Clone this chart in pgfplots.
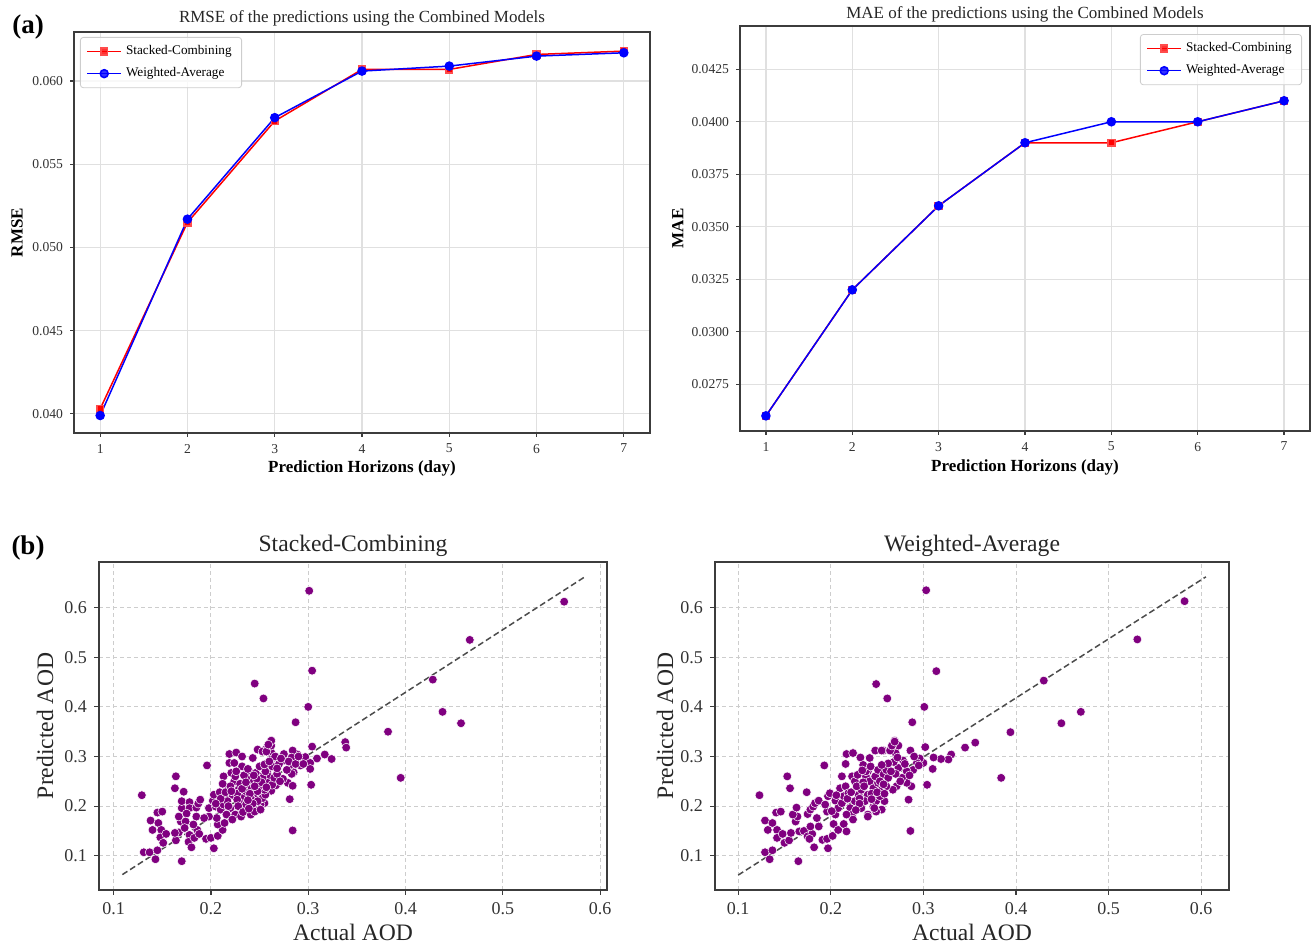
\documentclass[border=0pt]{standalone}
\usepackage{fontspec}
\setmainfont{Liberation Serif}
\usepackage{pgfplots}
\pgfplotsset{compat=1.18}
\definecolor{aodpurple}{RGB}{128,0,128}
\definecolor{framegray}{RGB}{60,60,60}
\definecolor{gridgray}{RGB}{224,224,224}
\definecolor{lgray}{RGB}{205,205,205}

\pgfplotstableread{
x y
0.301 0.634
0.563 0.612
0.466 0.535
0.304 0.473
0.428 0.455
0.245 0.447
0.254 0.417
0.300 0.400
0.438 0.390
0.457 0.367
0.287 0.369
0.382 0.350
0.338 0.329
0.339 0.318
0.395 0.257
0.317 0.304
0.324 0.295
0.309 0.296
0.304 0.320
0.297 0.299
0.302 0.287
0.302 0.275
0.303 0.243
0.292 0.282
0.289 0.304
0.284 0.312
0.283 0.298
0.284 0.280
0.285 0.268
0.283 0.265
0.276 0.292
0.278 0.273
0.279 0.247
0.284 0.241
0.281 0.214
0.284 0.151
0.274 0.255
0.269 0.247
0.267 0.242
0.262 0.231
0.262 0.253
0.262 0.283
0.262 0.308
0.262 0.332
0.261 0.322
0.256 0.314
0.258 0.267
0.250 0.260
0.252 0.236
0.255 0.206
0.250 0.193
0.259 0.260
0.129 0.222
0.196 0.282
0.164 0.260
0.163 0.236
0.172 0.229
0.138 0.171
0.145 0.187
0.150 0.189
0.146 0.166
0.140 0.152
0.149 0.152
0.148 0.137
0.154 0.144
0.151 0.126
0.131 0.107
0.137 0.107
0.145 0.111
0.143 0.093
0.170 0.089
0.164 0.131
0.167 0.147
0.163 0.146
0.169 0.169
0.167 0.179
0.170 0.196
0.170 0.210
0.178 0.208
0.178 0.196
0.175 0.185
0.174 0.169
0.173 0.156
0.178 0.142
0.177 0.128
0.180 0.117
0.183 0.136
0.186 0.152
0.188 0.144
0.182 0.163
0.185 0.179
0.185 0.197
0.187 0.205
0.189 0.213
0.195 0.134
0.200 0.136
0.203 0.115
0.207 0.140
0.212 0.152
0.207 0.163
0.206 0.176
0.198 0.179
0.198 0.196
0.193 0.176
0.202 0.211
0.203 0.223
0.205 0.199
0.210 0.193
0.213 0.203
0.215 0.216
0.209 0.228
0.217 0.236
0.213 0.260
0.219 0.287
0.224 0.287
0.219 0.305
0.226 0.308
0.221 0.267
0.224 0.250
0.225 0.260
0.229 0.236
0.222 0.223
0.217 0.210
0.220 0.196
0.225 0.183
0.216 0.183
0.214 0.166
0.222 0.173
0.231 0.196
0.229 0.210
0.234 0.220
0.236 0.230
0.232 0.300
0.232 0.280
0.243 0.297
0.241 0.267
0.237 0.257
0.239 0.243
0.244 0.250
0.242 0.236
0.246 0.226
0.241 0.216
0.236 0.203
0.231 0.179
0.241 0.183
0.246 0.193
0.251 0.203
0.253 0.216
0.248 0.210
0.256 0.223
0.255 0.233
0.250 0.240
0.258 0.247
0.253 0.257
0.246 0.267
0.250 0.280
0.256 0.270
0.263 0.280
0.262 0.294
0.255 0.284
0.248 0.314
0.253 0.310
0.257 0.310
0.262 0.322
0.262 0.332
0.259 0.324
0.245 0.189
0.251 0.193
0.263 0.243
0.265 0.257
0.210 0.215
0.215 0.228
0.220 0.240
0.227 0.225
0.230 0.245
0.234 0.262
0.238 0.275
0.240 0.225
0.243 0.205
0.248 0.230
0.252 0.248
0.247 0.255
0.227 0.213
0.218 0.200
0.232 0.235
0.238 0.212
0.244 0.262
0.226 0.270
0.268 0.265
0.271 0.250
0.270 0.285
0.266 0.300
0.275 0.305
0.280 0.290
0.287 0.285
0.290 0.300
0.295 0.285
0.212 0.245
0.236 0.248
0.245 0.240
0.221 0.230
0.228 0.200
0.233 0.188
0.239 0.195
0.205 0.205
0.257 0.238
0.260 0.290
0.268 0.276
0.272 0.296
}\stackeddata

\pgfplotstableread{
x y
0.303 0.635
0.582 0.613
0.531 0.536
0.314 0.472
0.430 0.453
0.249 0.446
0.261 0.417
0.301 0.400
0.470 0.390
0.449 0.367
0.288 0.369
0.394 0.349
0.384 0.257
0.356 0.328
0.345 0.318
0.302 0.319
0.330 0.304
0.327 0.294
0.319 0.295
0.311 0.298
0.310 0.275
0.304 0.243
0.300 0.287
0.296 0.296
0.286 0.312
0.293 0.287
0.289 0.273
0.287 0.240
0.284 0.213
0.286 0.150
0.282 0.270
0.282 0.247
0.277 0.257
0.271 0.240
0.273 0.277
0.270 0.307
0.273 0.322
0.269 0.332
0.266 0.320
0.257 0.312
0.278 0.292
0.268 0.289
0.260 0.282
0.262 0.260
0.267 0.233
0.258 0.210
0.255 0.193
0.262 0.263
0.123 0.222
0.193 0.282
0.153 0.260
0.156 0.236
0.174 0.228
0.129 0.171
0.141 0.187
0.146 0.189
0.137 0.166
0.132 0.152
0.142 0.152
0.142 0.136
0.148 0.144
0.150 0.126
0.129 0.107
0.137 0.111
0.134 0.093
0.165 0.089
0.155 0.131
0.157 0.146
0.162 0.169
0.164 0.179
0.159 0.183
0.163 0.197
0.166 0.149
0.171 0.150
0.175 0.139
0.180 0.144
0.177 0.134
0.182 0.117
0.178 0.159
0.175 0.184
0.178 0.193
0.181 0.199
0.183 0.206
0.187 0.211
0.185 0.176
0.187 0.159
0.191 0.132
0.196 0.134
0.197 0.115
0.202 0.140
0.203 0.164
0.208 0.152
0.214 0.164
0.205 0.183
0.196 0.189
0.194 0.203
0.197 0.220
0.199 0.226
0.205 0.211
0.208 0.196
0.212 0.206
0.214 0.220
0.210 0.236
0.216 0.240
0.212 0.260
0.216 0.285
0.217 0.305
0.224 0.307
0.219 0.226
0.221 0.196
0.223 0.183
0.224 0.173
0.226 0.210
0.230 0.223
0.233 0.233
0.223 0.260
0.226 0.250
0.232 0.298
0.235 0.283
0.242 0.297
0.240 0.270
0.238 0.260
0.242 0.250
0.246 0.236
0.240 0.223
0.237 0.210
0.233 0.196
0.240 0.183
0.246 0.199
0.249 0.210
0.253 0.220
0.255 0.233
0.251 0.247
0.248 0.260
0.251 0.273
0.257 0.264
0.260 0.273
0.262 0.286
0.255 0.283
0.248 0.312
0.255 0.312
0.264 0.312
0.266 0.322
0.269 0.330
0.260 0.240
0.262 0.257
0.249 0.189
0.240 0.179
0.247 0.196
0.217 0.183
0.217 0.149
0.218 0.215
0.222 0.228
0.228 0.240
0.231 0.215
0.235 0.248
0.238 0.270
0.244 0.225
0.250 0.228
0.253 0.250
0.229 0.263
0.243 0.280
0.270 0.265
0.275 0.250
0.280 0.285
0.290 0.300
0.295 0.282
0.206 0.222
0.231 0.205
0.236 0.240
0.244 0.214
0.257 0.244
0.265 0.270
0.272 0.298
0.285 0.262
0.201 0.190
0.227 0.192
0.234 0.272
0.258 0.225
}\weighteddata

\pgfplotsset{
  every axis title shift=0pt,
  topaxis/.style={
    scale only axis,
    axis line style={framegray, line width=0.75pt},
    tick align=outside, major tick length=2pt,
    tick style={framegray, line width=0.6pt},
    xtick pos=bottom, ytick pos=left,
    xmin=0.7, xmax=7.3, xtick={1,...,7},
    scaled y ticks=false,
    grid=major, major grid style={gridgray, line width=0.6pt},
    ticklabel style={font=\fontsize{6.8}{8}\selectfont, text=black!80},
    /pgf/number format/assume math mode=true,
    title style={font=\fontsize{8.5}{10}\selectfont, text=black!85, anchor=center},
    xlabel style={font=\fontsize{8.5}{10}\selectfont\bfseries, anchor=center},
    ylabel style={font=\fontsize{8.5}{10}\selectfont\bfseries, anchor=center},
    legend style={font=\fontsize{6.6}{8}\selectfont, draw=lgray, rounded corners=1.5pt,
      fill=white, fill opacity=0.8, text opacity=1, row sep=1pt, inner xsep=3pt, inner ysep=2pt},
    legend cell align=left,
  },
  botaxis/.style={
    scale only axis,
    axis line style={framegray, line width=0.75pt},
    tick align=outside, major tick length=2.5pt,
    tick style={framegray, line width=0.6pt},
    xtick pos=bottom, ytick pos=left,
    xtick={0.1,0.2,0.3,0.4,0.5,0.6}, ytick={0.1,0.2,0.3,0.4,0.5,0.6},
    ymin=0.031, ymax=0.692,
    grid=major, major grid style={lgray, line width=0.5pt, dash pattern=on 2pt off 1.5pt},
    ticklabel style={font=\fontsize{9}{10}\selectfont, text=black!80},
    /pgf/number format/assume math mode=true,
    xticklabel style={/pgf/number format/fixed, /pgf/number format/precision=1},
    yticklabel style={/pgf/number format/fixed, /pgf/number format/precision=1},
    title style={font=\fontsize{11.8}{13}\selectfont, text=black!85, anchor=center},
    xlabel style={font=\fontsize{11.8}{13}\selectfont, text=black!85, anchor=center},
    ylabel style={font=\fontsize{11.8}{13}\selectfont, text=black!85, anchor=center},
  },
}

\begin{document}
\begin{tikzpicture}
\useasboundingbox (0,0) rectangle (655.5pt,472.5pt);

% ---------- (a) RMSE ----------
\begin{axis}[topaxis,
  at={(37pt,256pt)}, anchor=south west, width=288pt, height=200.5pt,
  ymin=0.03885, ymax=0.06295,
  ytick={0.040,0.045,0.050,0.055,0.060},
  yticklabel style={/pgf/number format/fixed, /pgf/number format/fixed zerofill, /pgf/number format/precision=3},
  title={RMSE of the predictions using the Combined Models},
  title style={at={(axis description cs:0.5,1.035)}},
  xlabel={Prediction Horizons (day)},
  xlabel style={at={(axis description cs:0.5,-0.0873)}},
  ylabel={RMSE},
  ylabel style={at={(axis description cs:-0.099,0.5)}},
  legend style={at={(0.0104,0.9875)}, anchor=north west},
]
\addplot[red, line width=0.75pt, mark=square*, mark size=1.7pt, mark options={fill=red, draw=red!70}]
  coordinates {(1,0.0403)(2,0.0515)(3,0.0576)(4,0.0607)(5,0.0607)(6,0.0616)(7,0.0618)};
\addplot[blue, line width=0.75pt, mark=*, mark size=2pt, mark options={fill=blue, draw=blue}]
  coordinates {(1,0.0399)(2,0.0517)(3,0.0578)(4,0.0606)(5,0.0609)(6,0.0615)(7,0.0617)};
\legend{Stacked-Combining, Weighted-Average}
\end{axis}

% ---------- (a) MAE ----------
\begin{axis}[topaxis,
  at={(370pt,257pt)}, anchor=south west, width=285pt, height=202.5pt,
  ymin=0.02528, ymax=0.04456,
  ytick={0.0275,0.0300,0.0325,0.0350,0.0375,0.0400,0.0425},
  yticklabel style={/pgf/number format/fixed, /pgf/number format/fixed zerofill, /pgf/number format/precision=4},
  title={MAE of the predictions using the Combined Models},
  title style={at={(axis description cs:0.5,1.0296)}},
  xlabel={Prediction Horizons (day)},
  xlabel style={at={(axis description cs:0.5,-0.0889)}},
  ylabel={MAE},
  ylabel style={at={(axis description cs:-0.109,0.5)}},
  legend style={at={(0.986,0.980)}, anchor=north east},
]
\addplot[red, line width=0.75pt, mark=square*, mark size=1.7pt, mark options={fill=red, draw=red!70}]
  coordinates {(1,0.026)(2,0.032)(3,0.036)(4,0.039)(5,0.039)(6,0.040)(7,0.041)};
\addplot[blue, line width=0.75pt, mark=*, mark size=2pt, mark options={fill=blue, draw=blue}]
  coordinates {(1,0.026)(2,0.032)(3,0.036)(4,0.039)(5,0.040)(6,0.040)(7,0.041)};
\legend{Stacked-Combining, Weighted-Average}
\end{axis}

% ---------- (b) Stacked-Combining ----------
\begin{axis}[botaxis,
  at={(49.5pt,27.5pt)}, anchor=south west, width=254pt, height=164pt,
  xmin=0.085, xmax=0.607,
  title={Stacked-Combining},
  title style={at={(axis description cs:0.5,1.049)}},
  xlabel={Actual AOD},
  xlabel style={at={(axis description cs:0.5,-0.128)}},
  ylabel={Predicted AOD},
  ylabel style={at={(axis description cs:-0.106,0.5)}},
]
\addplot[only marks, mark=*, mark size=2.2pt, mark options={fill=aodpurple, draw=white, line width=0.25pt}]
  table[x=x, y=y] {\stackeddata};
\addplot[black!70, line width=0.75pt, dash pattern=on 3pt off 1.6pt] coordinates {(0.109,0.062)(0.585,0.663)};
\end{axis}

% ---------- (b) Weighted-Average ----------
\begin{axis}[botaxis,
  at={(357.5pt,27.5pt)}, anchor=south west, width=257pt, height=164pt,
  xmin=0.075, xmax=0.630,
  title={Weighted-Average},
  title style={at={(axis description cs:0.5,1.049)}},
  xlabel={Actual AOD},
  xlabel style={at={(axis description cs:0.5,-0.128)}},
  ylabel={Predicted AOD},
  ylabel style={at={(axis description cs:-0.097,0.5)}},
]
\addplot[only marks, mark=*, mark size=2.2pt, mark options={fill=aodpurple, draw=white, line width=0.25pt}]
  table[x=x, y=y] {\weighteddata};
\addplot[black!70, line width=0.75pt, dash pattern=on 3pt off 1.6pt] coordinates {(0.100,0.061)(0.605,0.662)};
\end{axis}

\node[font=\fontsize{13.5}{15}\selectfont\bfseries] at (14pt,459pt) {(a)};
\node[font=\fontsize{13.5}{15}\selectfont\bfseries] at (14pt,198.5pt) {(b)};
\end{tikzpicture}
\end{document}
